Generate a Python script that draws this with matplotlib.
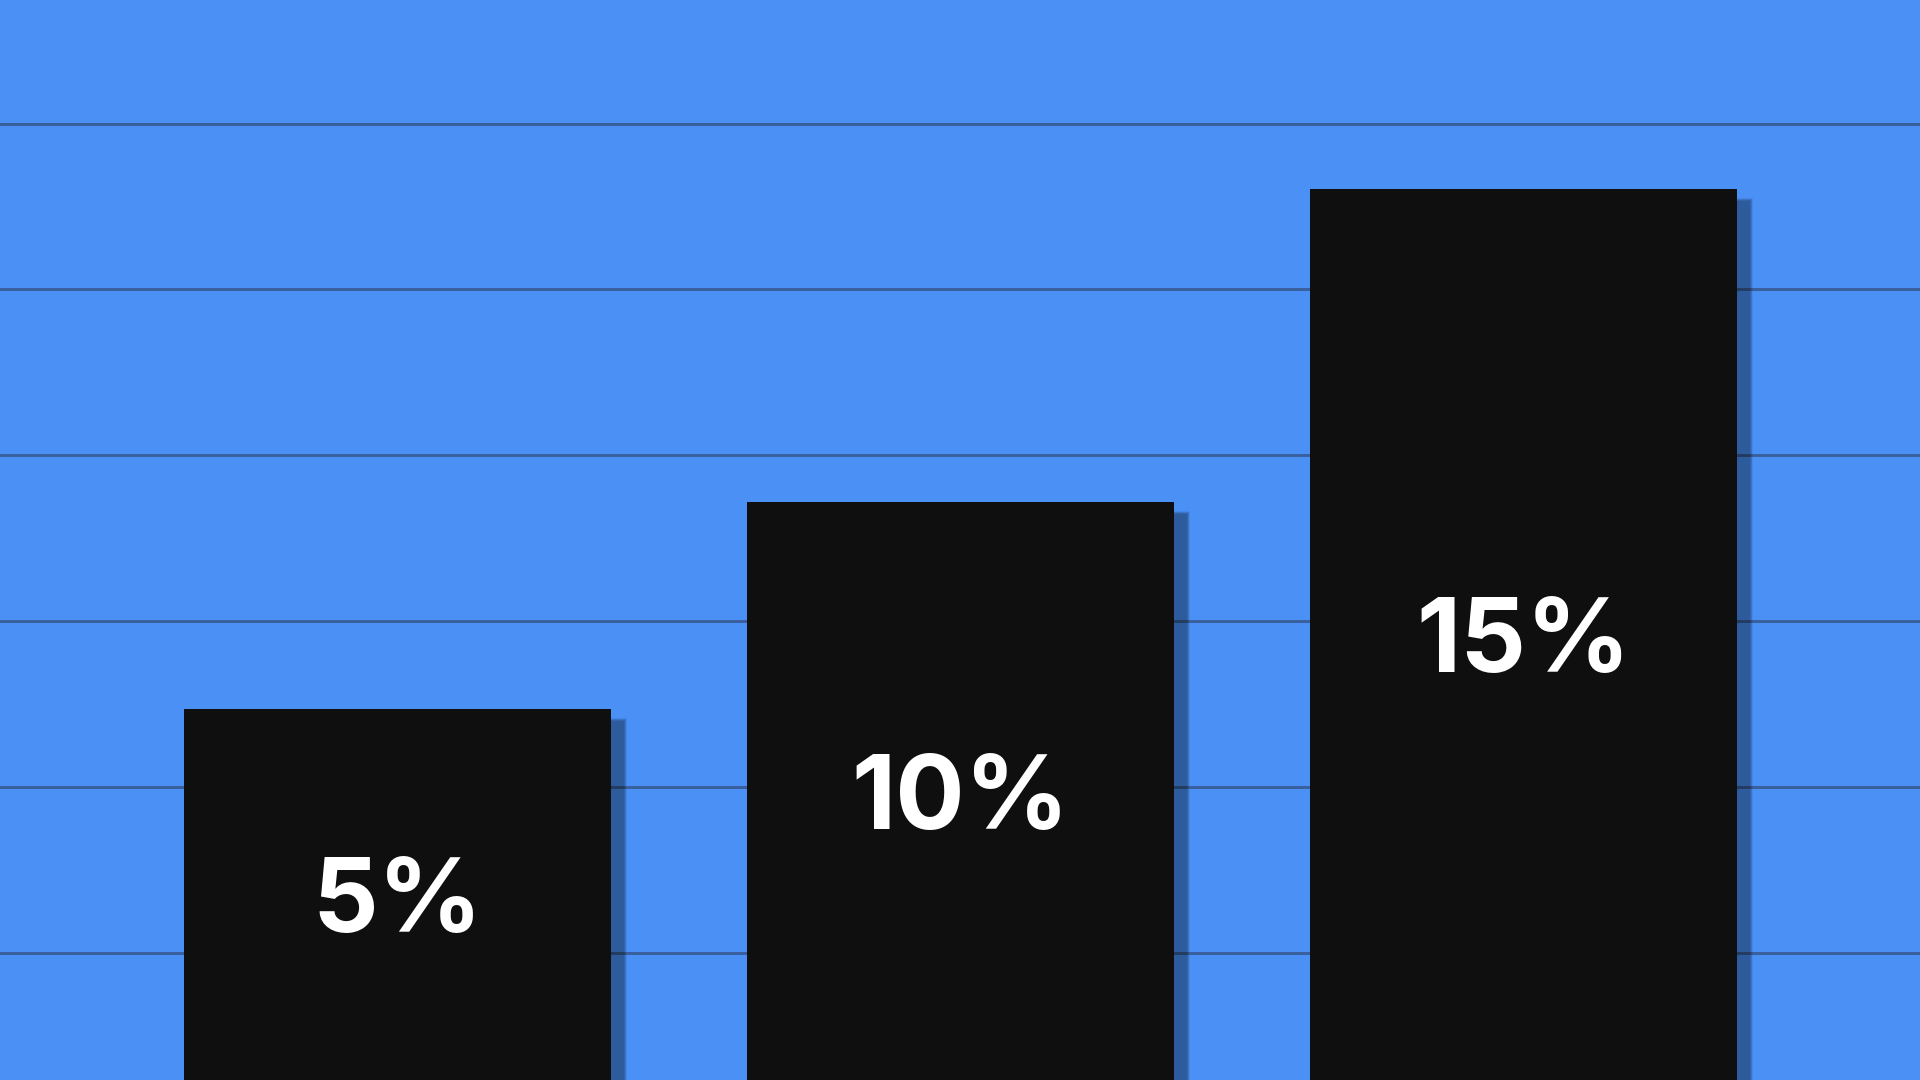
import matplotlib
matplotlib.use("Agg")
import matplotlib.pyplot as plt
import matplotlib.transforms as mtransforms
from matplotlib import font_manager

# ---- data ----
categories = ["A", "B", "C"]
bar_heights = [2.47, 3.715, 5.607]      # in grid units (gridlines at 1..6)
labels = ["5%", "10%", "15%"]
grid_levels = [1, 2, 3, 4, 5, 6]

BG = "#4a90f5"
BAR = "#0f0f0f"
GRID = "#3a5f9c"

fam = "Inter"
names = {f.name for f in font_manager.fontManager.ttflist}
if fam not in names:
    fam = "DejaVu Sans"

fig = plt.figure(figsize=(19.2, 10.8), dpi=100, facecolor=BG)
ax = fig.add_axes([0, 0, 1, 1])
ax.set_facecolor(BG)

y_bottom = 0.232
ax.set_xlim(-0.7055, 2.7036)
ax.set_ylim(y_bottom, 6.745)

for g in grid_levels:
    ax.axhline(g, color=GRID, lw=2.1, zorder=1)

x = list(range(len(categories)))
width = 0.758

# soft shadow: stacked layers with slight spread
dx_px, dy_px = 15, -10
layers = [(-2, 0.10), (-1, 0.12), (0, 0.14), (1, 0.06)]
for spread, a in layers:
    for xi, h in zip(x, bar_heights):
        off = mtransforms.offset_copy(ax.transData, fig=fig, x=dx_px / 100 * 72 / 72,
                                      y=dy_px / 100, units="inches")
        # spread in data units
        sx = spread / 563.2
        sy = spread / 165.84
        ax.bar(xi, h - y_bottom + 1 + 2 * sy, width=width + 2 * sx, bottom=y_bottom - 1 - sy,
               color="black", alpha=a, linewidth=0, zorder=2, transform=off)

bars = ax.bar(x, [h - y_bottom + 1 for h in bar_heights], width=width, bottom=y_bottom - 1,
              color=BAR, linewidth=0, zorder=3)

for xi, h, lab in zip(x, bar_heights, labels):
    ax.text(xi, (h + y_bottom) / 2, lab, ha="center", va="center_baseline",
            color="white", fontsize=74, fontweight="bold", family=fam, zorder=4)

ax.axis("off")
fig.savefig("out.png", dpi=100, facecolor=BG)
